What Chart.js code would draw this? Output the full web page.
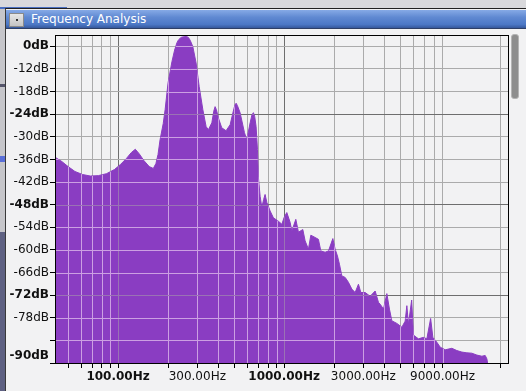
<!DOCTYPE html>
<html>
<head>
<meta charset="utf-8">
<title>Frequency Analysis</title>
<script src="https://cdn.jsdelivr.net/npm/chart.js@4/dist/chart.umd.min.js"></script>
<style>
  html, body { margin: 0; padding: 0; }
  body {
    width: 526px; height: 391px; overflow: hidden; position: relative;
    background: #d9d9dc; font-family: "DejaVu Sans", sans-serif;
  }
  #tabLine { position: absolute; left: 0; top: 7px; width: 67px; height: 2px; background: #4a6fc0; }
  #side { position: absolute; left: 0; top: 9px; width: 5px; height: 223px; background: #c6c6ca; }
  #sideMark1 { position: absolute; left: 0; top: 84px; width: 5px; height: 3px; background: #55556a; }
  #sideMark2 { position: absolute; left: 0; top: 156px; width: 5px; height: 6px; background: #5a6fd8; }
  #sideDark { position: absolute; left: 0; top: 232px; width: 5px; height: 159px; background: #5f6182; }
  #win {
    position: absolute; left: 5px; top: 8px; width: 521px; height: 383px;
    background: #f2f2f3; border-left: 1px solid #3a3a3a; border-top: 1px solid #222;
  }
  #titlebar {
    position: absolute; left: 0; top: 1px; width: 100%; height: 18px;
    background: linear-gradient(#86aae6, #6089d2 40%, #4c78c6 80%, #36589c);
    border-bottom: 1px solid #2e3f66;
  }
  #btn {
    position: absolute; left: 3px; top: 3px; width: 13px; height: 12px;
    background: linear-gradient(#e6e6e6, #c4c4c4); border: 1px solid #8a8a8a;
  }
  #btn::after {
    content: ""; position: absolute; left: 6px; top: 5px; width: 2px; height: 2px; background: #333;
  }
  #title {
    position: absolute; left: 25px; top: 2px; color: #fff; font-size: 12px;
    line-height: 15px; font-family: "DejaVu Sans", sans-serif;
  }
  #chartBox { position: absolute; left: 6px; top: 29px; width: 510px; height: 362px; }
  #scroll {
    position: absolute; left: 511px; top: 34px; width: 6px; height: 63px;
    background: #8e8e8e; border: 1px solid #b4b4b4; border-radius: 3px;
  }
</style>
</head>
<body>
<div id="tabLine"></div>
<div id="side"></div>
<div id="sideMark1"></div>
<div id="sideMark2"></div>
<div id="sideDark"></div>
<div id="win">
  <div id="titlebar"><div id="btn"></div><div id="title">Frequency Analysis</div></div>
</div>
<div id="chartBox"><canvas id="spectrum" width="510" height="362"></canvas></div>
<div id="scroll"></div>

<script>
/* ---------- DATA ---------- */
// spectrum: frequency (Hz) and level (dB, axis units)
const freqHz = [
  42, 46, 50, 55, 61, 68, 76, 85, 95, 103,
  112, 120, 127, 134, 143, 154, 163, 169, 174, 179,
  187, 192, 200, 211, 219, 226, 231, 236, 241, 246,
  257, 262, 268, 275, 282,
  295, 308, 324, 339, 350, 367, 377, 384, 391, 402, 421, 447,
  473, 493, 505, 514, 523, 543, 577, 596, 624, 640, 653, 665, 678, 691,
  700, 717, 734, 753, 768, 787, 824, 862, 924, 969,
  1000, 1038, 1087, 1113, 1176, 1220, 1296, 1338, 1401, 1448,
  1537, 1609, 1664, 1766, 1849, 1965, 2029, 2095, 2154, 2227,
  2331, 2440, 2558, 2678, 2803, 2898, 3076, 3297, 3534, 3699,
  3787, 3965, 4156, 4308, 4454, 4774, 5117, 5357, 5485, 5608,
  5863, 6011, 6442, 6905, 7236, 7628, 7865, 8318, 8708, 9332,
  10238, 10974, 11760, 12603, 13507, 14477, 15524, 16250, 16640, 16940
];
const levelDb = [
  -35.5, -36.6, -37.9, -39.2, -40.0, -40.4, -40.3, -39.8, -38.7, -37.4,
  -35.8, -34.2, -33.3, -34.5, -36.3, -37.9, -38.4, -37.1, -34.7, -30.8,
  -26.5, -22.8, -15.7, -10.1, -7.0, -5.1, -4.3, -3.9, -3.6, -3.5,
  -3.4, -3.5, -3.9, -4.9, -6.1,
  -10.4, -16.7, -22.8, -27.3, -28.1, -26.3, -23.2, -22.0, -22.8, -25.0, -27.6, -28.4,
  -26.8, -23.4, -21.6, -21.1, -21.7, -23.6, -28.9, -30.8, -26.3, -24.2, -23.6, -24.6, -27.3, -33.4,
  -40.8, -45.8, -48.7, -46.6, -45.3, -47.4, -49.7, -51.5, -52.4, -53.2,
  -51.4, -50.1, -52.7, -55.0, -51.9, -55.3, -54.6, -57.6, -59.8, -56.1,
  -56.7, -57.2, -60.3, -60.6, -60.3, -57.0, -59.8, -61.6, -63.8, -66.9,
  -67.3, -68.6, -70.4, -71.3, -69.1, -71.3, -71.3, -72.3, -70.9, -73.9,
  -74.4, -75.7, -71.6, -75.7, -78.8, -79.5, -80.5, -78.9, -74.8, -79.7,
  -73.3, -82.6, -83.6, -83.2, -83.6, -78.2, -83.2, -84.5, -85.8, -86.5,
  -86.1, -86.7, -87.1, -87.3, -87.4, -87.9, -88.2, -88.0, -88.9, -91
];

const xTickValues = [50, 60, 70, 80, 90, 100, 200, 300, 400, 500, 600, 700, 800, 900,
  1000, 2000, 3000, 4000, 5000, 6000, 7000, 8000, 9000, 20000];
const xTickLabels = { 100: "100.00Hz", 300: "300.00Hz", 1000: "1000.00Hz", 3000: "3000.00Hz", 9000: "9000.00Hz" };

const yTickValues = [-6, -12, -18, -24, -30, -36, -42, -48, -54, -60, -66, -72, -78, -84, -90];
const yTickLabels = ["0dB", "-12dB", "-18dB", "-24dB", "-30dB", "-36dB", "-42dB", "-48dB",
  "-54dB", "-60dB", "-66dB", "-72dB", "-78dB", "", "-90dB"];

/* ---------- STYLE ---------- */
const FILL = "#8a3dc2";
const xMajor = new Set([100, 1000]);
const yMajor = new Set([-24, -48, -72]);
const xBold = new Set([100, 1000]);
const yBold = new Set([-6, -24, -48, -72, -90]);

Chart.defaults.font.family = '"DejaVu Sans", sans-serif';
Chart.defaults.font.size = 12;
Chart.defaults.color = "#111";

/* ---------- PLUGINS ---------- */
// grid lines that show through the filled spectrum (lighter on purple)
const fillGrid = {
  id: "fillGrid",
  afterDatasetsDraw(chart) {
    const { ctx, chartArea: a, scales } = chart;
    const pts = chart.getDatasetMeta(0).data;
    if (!pts.length) return;

    ctx.save();
    ctx.beginPath();
    ctx.rect(a.left, a.top, a.width, a.height);
    ctx.clip();
    ctx.beginPath();
    ctx.moveTo(pts[0].x, a.bottom);
    pts.forEach(p => ctx.lineTo(p.x, p.y));
    ctx.lineTo(pts[pts.length - 1].x, a.bottom);
    ctx.closePath();
    ctx.clip();

    ctx.lineWidth = 1;
    scales.x.ticks.forEach(t => {
      const px = Math.round(scales.x.getPixelForValue(t.value)) + 0.5;
      ctx.strokeStyle = xMajor.has(t.value) ? "#9a72b4" : "#cc9fe2";
      ctx.beginPath();
      ctx.moveTo(px, a.top);
      ctx.lineTo(px, a.bottom);
      ctx.stroke();
    });
    scales.y.ticks.forEach(t => {
      const py = Math.round(scales.y.getPixelForValue(t.value)) + 0.5;
      ctx.strokeStyle = yMajor.has(t.value) ? "#9a72b4" : "#cc9fe2";
      ctx.beginPath();
      ctx.moveTo(a.left, py);
      ctx.lineTo(a.right, py);
      ctx.stroke();
    });
    ctx.restore();
  }
};

// black frame round the plot
const frame = {
  id: "frame",
  afterDraw(chart) {
    const { ctx, chartArea: a } = chart;
    ctx.save();
    ctx.strokeStyle = "#000";
    ctx.lineWidth = 1;
    ctx.strokeRect(a.left + 0.5, a.top + 0.5, a.width, a.height);
    ctx.restore();
  }
};

/* ---------- CHART ---------- */
const points = freqHz.map((f, i) => ({ x: f, y: levelDb[i] }));

new Chart(document.getElementById("spectrum"), {
  type: "line",
  data: {
    datasets: [{
      data: points,
      borderColor: FILL,
      backgroundColor: FILL,
      borderWidth: 1,
      pointRadius: 0,
      tension: 0,
      fill: "start"
    }]
  },
  options: {
    responsive: false,
    animation: false,
    events: [],
    layout: { padding: { top: 6, right: 8, left: 0, bottom: 0 } },
    plugins: { legend: { display: false }, tooltip: { enabled: false } },
    scales: {
      x: {
        type: "logarithmic",
        min: 41.7,
        max: 22300,
        afterBuildTicks: s => { s.ticks = xTickValues.map(v => ({ value: v })); },
        afterFit: s => { s.height = 28; s.paddingLeft = 0; s.paddingRight = 0; },
        border: { display: false },
        grid: {
          color: c => (c.tick && xMajor.has(c.tick.value)) ? "#6e6e6e" : "#ababab",
          tickColor: "#000",
          tickLength: 5
        },
        ticks: {
          autoSkip: false,
          maxRotation: 0,
          padding: 2,
          color: "#111",
          callback: v => xTickLabels[v] || "",
          font: c => ({ weight: (c.tick && xBold.has(c.tick.value)) ? "bold" : "normal" })
        }
      },
      y: {
        type: "linear",
        min: -90,
        max: -3,
        afterBuildTicks: s => { s.ticks = yTickValues.map(v => ({ value: v })); },
        afterFit: s => { s.width = 49; s.paddingTop = 0; s.paddingBottom = 0; },
        border: { display: false },
        grid: {
          color: c => (c.tick && yMajor.has(c.tick.value)) ? "#6e6e6e" : "#ababab",
          tickColor: "#000",
          tickLength: 5
        },
        ticks: {
          autoSkip: false,
          padding: 1,
          color: "#111",
          callback: v => {
            const lab = yTickLabels[yTickValues.indexOf(v)] || "";
            // bottom label sits above its tick, as in the ruler
            return v === -90 ? [lab, ""] : lab;
          },
          font: c => ({ weight: (c.tick && yBold.has(c.tick.value)) ? "bold" : "normal" })
        }
      }
    }
  },
  plugins: [fillGrid, frame]
});
</script>
</body>
</html>
